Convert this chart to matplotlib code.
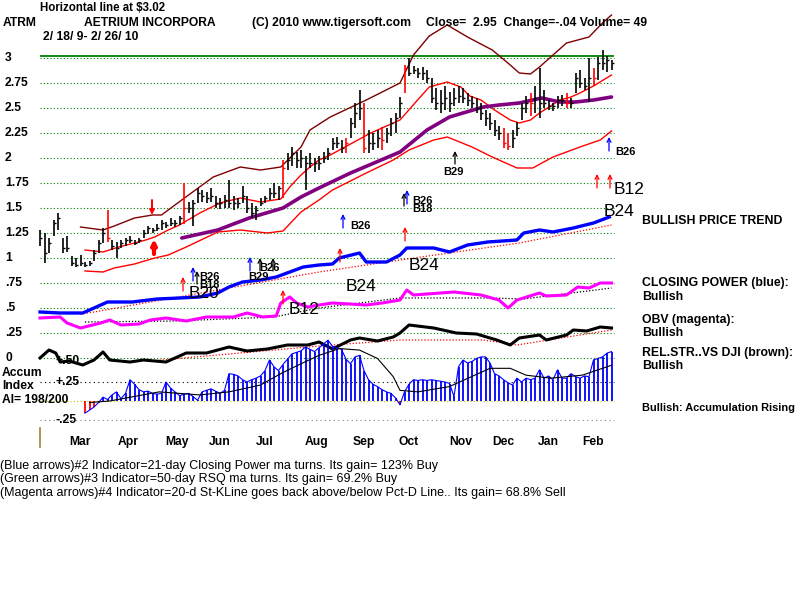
import numpy as np
import matplotlib
matplotlib.use('Agg')
import matplotlib.pyplot as plt
from matplotlib.transforms import blended_transform_factory

# ---- data (x = trading day, bars every 2 days) ----
hi = [1.28, 1.25, 1.20, 1.38, 1.45, 1.20, 1.22, 1.02, 1.00, 1.03,
      0.96, 0.97, 1.08, 1.18, 1.30, 1.48, 1.18, 1.16, 1.18, 1.20,
      1.22, 1.18, 1.20, 1.28, 1.32, 1.30, 1.34, 1.38, 1.36, 1.40,
      1.38, 1.42, 1.75, 1.56, 1.58, 1.70, 1.68, 1.66, 1.70, 1.62,
      1.60, 1.63, 1.78, 1.62, 1.60, 1.72, 1.62, 1.55, 1.52, 1.60,
      1.62, 1.70, 1.75, 1.72, 1.98, 2.05, 2.11, 2.06, 2.08, 2.02,
      2.05, 2.00, 2.02, 2.06, 2.10, 2.20, 2.21, 2.18, 2.20, 2.40,
      2.55, 2.68, 2.55, 2.28, 2.25, 2.28, 2.31, 2.30, 2.40, 2.45,
      2.61, 2.93, 3.00, 2.92, 2.90, 2.91, 2.88, 2.80, 2.70, 2.68,
      2.72, 2.66, 2.70, 2.72, 2.70, 2.65, 2.62, 2.60, 2.55, 2.48,
      2.45, 2.38, 2.32, 2.30, 2.25, 2.28, 2.36, 2.55, 2.62, 2.65,
      2.72, 2.90, 2.68, 2.58, 2.55, 2.62, 2.63, 2.65, 2.60, 2.85,
      2.88, 2.80, 3.00, 2.90, 3.01, 3.08, 3.02, 2.98]
lo = [1.12, 0.95, 1.05, 1.22, 1.28, 1.05, 1.06, 0.92, 0.91, 0.92,
      0.91, 0.92, 0.97, 1.05, 1.15, 1.16, 1.08, 1.00, 1.10, 1.12,
      1.15, 1.13, 1.15, 1.20, 1.24, 1.25, 1.27, 1.28, 1.30, 1.32,
      1.31, 1.33, 1.34, 1.45, 1.32, 1.55, 1.56, 1.55, 1.56, 1.50,
      1.49, 1.50, 1.50, 1.48, 1.50, 1.55, 1.45, 1.40, 1.38, 1.52,
      1.55, 1.58, 1.60, 1.58, 1.60, 1.88, 1.92, 1.90, 1.90, 1.68,
      1.90, 1.86, 1.88, 1.95, 1.98, 2.08, 2.10, 2.05, 2.05, 2.20,
      2.30, 2.38, 2.05, 2.05, 2.08, 2.10, 2.08, 2.15, 2.22, 2.25,
      2.40, 2.65, 2.82, 2.84, 2.80, 2.78, 2.75, 2.55, 2.48, 2.45,
      2.48, 2.46, 2.52, 2.55, 2.55, 2.52, 2.50, 2.45, 2.38, 2.32,
      2.28, 2.22, 2.18, 2.10, 2.08, 2.10, 2.22, 2.38, 2.45, 2.42,
      2.45, 2.40, 2.50, 2.48, 2.47, 2.50, 2.52, 2.50, 2.50, 2.65,
      2.70, 2.68, 2.56, 2.72, 2.78, 2.88, 2.86, 2.88]
cl = [1.20, 1.05, 1.15, 1.35, 1.40, 1.10, 1.10, 0.95, 0.93, 0.95,
      0.93, 0.95, 1.05, 1.15, 1.25, 1.20, 1.12, 1.10, 1.15, 1.18,
      1.18, 1.15, 1.18, 1.25, 1.30, 1.28, 1.30, 1.35, 1.33, 1.35,
      1.35, 1.40, 1.50, 1.50, 1.55, 1.65, 1.62, 1.60, 1.62, 1.55,
      1.55, 1.58, 1.55, 1.55, 1.55, 1.62, 1.50, 1.45, 1.48, 1.55,
      1.60, 1.65, 1.65, 1.70, 1.90, 1.98, 2.05, 1.98, 2.00, 1.95,
      1.95, 1.95, 1.95, 2.00, 2.05, 2.15, 2.15, 2.10, 2.15, 2.35,
      2.45, 2.50, 2.10, 2.15, 2.15, 2.20, 2.18, 2.25, 2.35, 2.40,
      2.55, 2.90, 2.85, 2.88, 2.85, 2.85, 2.80, 2.60, 2.55, 2.55,
      2.60, 2.55, 2.60, 2.62, 2.60, 2.58, 2.55, 2.50, 2.45, 2.40,
      2.35, 2.28, 2.25, 2.15, 2.12, 2.20, 2.30, 2.50, 2.55, 2.55,
      2.60, 2.55, 2.55, 2.52, 2.52, 2.58, 2.58, 2.55, 2.55, 2.80,
      2.75, 2.72, 2.80, 2.80, 2.95, 2.95, 2.98, 2.95]
red_bars = [15, 32, 54, 68, 72, 76, 81, 103, 104, 109, 117, 123]

acc = [np.nan] * 10 + [
    -0.16, -0.12, -0.08, -0.02, 0.05, 0.02, 0.08, 0.12, 0.03, 0.10,
    0.28, 0.22, 0.15, 0.12, 0.13, 0.10, 0.09, 0.10, 0.25, 0.17,
    0.12, 0.07, 0.09, 0.10, 0.06, 0.01, 0.12, 0.14, 0.16, 0.13,
    0.10, 0.14, 0.36, 0.35, 0.33, 0.28, 0.25, 0.28, 0.30, 0.33,
    0.40, 0.54, 0.45, 0.40, 0.48, 0.55, 0.62, 0.64, 0.66, 0.71,
    0.68, 0.65, 0.70, 0.75, 0.80, 0.72, 0.70, 0.68, 0.55, 0.49,
    0.58, 0.60, 0.40, 0.28, 0.22, 0.19, 0.15, 0.12, 0.10, 0.04,
    -0.05, 0.12, 0.22, 0.28, 0.27, 0.28, 0.27, 0.28, 0.27, 0.26,
    0.25, 0.23, 0.06, 0.45, 0.54, 0.50, 0.52, 0.56, 0.58, 0.58,
    0.50, 0.36, 0.33, 0.28, 0.24, 0.21, 0.30, 0.25, 0.30, 0.28,
    0.30, 0.41, 0.30, 0.33, 0.28, 0.41, 0.30, 0.30, 0.36, 0.32,
    0.30, 0.33, 0.32, 0.54, 0.56, 0.58, 0.63, 0.65]
acc_ma_d = [22, 31, 53, 71, 84, 98, 107, 116, 124, 133, 142, 150, 157, 160, 168, 182, 200, 209, 216, 227, 241, 254]
acc_ma = [-0.02, 0.0, 0.12, 0.08, 0.12, 0.21, 0.36, 0.49, 0.60, 0.69, 0.67, 0.56, 0.32, 0.14, 0.12, 0.19, 0.43, 0.43, 0.34, 0.30, 0.34, 0.47]

up_d = [18, 28, 33, 42, 50, 54, 63, 77, 89, 98, 107, 116, 120, 129, 145, 160, 166, 173, 181, 190, 201, 209, 213, 218, 222, 228, 234, 244, 250, 254]
up_band = [1.31, 1.28, 1.32, 1.40, 1.43, 1.43, 1.58, 1.81, 1.91, 1.88, 1.91, 2.11, 2.28, 2.41, 2.58, 2.75, 3.03, 3.22, 3.33, 3.21, 3.08, 2.93, 2.85, 2.84, 2.91, 3.03, 3.15, 3.21, 3.35, 3.43]
mid_d = [20, 28, 35, 42, 47, 51, 57, 62, 71, 80, 89, 98, 107, 111, 116, 120, 124, 129, 147, 160, 169, 173, 181, 187, 191, 196, 202, 209, 213, 218, 222, 227, 231, 236, 240, 246, 254]
mid_band = [1.08, 1.06, 1.11, 1.15, 1.18, 1.21, 1.28, 1.33, 1.45, 1.55, 1.60, 1.56, 1.59, 1.71, 1.83, 1.91, 1.98, 2.03, 2.25, 2.38, 2.61, 2.71, 2.76, 2.71, 2.62, 2.58, 2.48, 2.38, 2.35, 2.38, 2.45, 2.52, 2.58, 2.61, 2.65, 2.72, 2.83]
low_d = [20, 28, 33, 42, 51, 57, 65, 79, 89, 101, 108, 116, 124, 130, 145, 157, 164, 175, 181, 192, 201, 212, 219, 228, 240, 249, 254]
low_band = [0.87, 0.86, 0.90, 0.94, 1.00, 1.03, 1.11, 1.26, 1.28, 1.25, 1.27, 1.46, 1.58, 1.68, 1.85, 1.98, 2.08, 2.18, 2.21, 2.11, 2.01, 1.90, 1.90, 2.01, 2.11, 2.18, 2.27]
ma50_d = [63, 79, 93, 108, 116, 124, 138, 160, 172, 182, 197, 204, 213, 223, 231, 238, 246, 254]
ma50 = [1.20, 1.28, 1.40, 1.50, 1.61, 1.70, 1.85, 2.06, 2.28, 2.41, 2.51, 2.53, 2.55, 2.60, 2.56, 2.56, 2.58, 2.61]

cp_d = [0, 9, 19, 25, 30, 41, 52, 62, 71, 79, 84, 90, 98, 105, 111, 117, 124, 130, 133, 142, 145, 154, 160, 163, 175, 182, 190, 199, 212, 215, 222, 228, 237, 246, 253]
cp = [0.46, 0.45, 0.45, 0.51, 0.56, 0.56, 0.59, 0.60, 0.61, 0.65, 0.71, 0.76, 0.78, 0.81, 0.86, 0.91, 0.93, 0.94, 1.00, 1.05, 0.96, 0.96, 1.03, 1.10, 1.10, 1.06, 1.13, 1.16, 1.18, 1.25, 1.28, 1.26, 1.30, 1.35, 1.41]
cp_ma_d = [18, 24, 79, 124, 160, 213, 254]
cp_ma = [0.44, 0.46, 0.68, 0.86, 0.98, 1.15, 1.33]

obv_d = [0, 9, 12, 18, 27, 31, 36, 44, 49, 56, 65, 74, 86, 92, 99, 105, 107, 111, 114, 119, 124, 130, 145, 152, 160, 163, 166, 178, 184, 196, 204, 208, 212, 222, 225, 234, 239, 244, 249, 254]
obv = [0.40, 0.41, 0.35, 0.30, 0.35, 0.38, 0.33, 0.34, 0.38, 0.40, 0.37, 0.41, 0.41, 0.45, 0.41, 0.42, 0.55, 0.61, 0.55, 0.51, 0.53, 0.55, 0.53, 0.55, 0.58, 0.68, 0.63, 0.65, 0.66, 0.63, 0.58, 0.50, 0.58, 0.65, 0.62, 0.63, 0.71, 0.70, 0.75, 0.75]
obv_ma_d = [20, 60, 104, 124, 160, 200, 215, 254]
obv_ma = [0.36, 0.37, 0.41, 0.50, 0.60, 0.60, 0.59, 0.70]

rs_d = [0, 4, 7, 9, 13, 19, 24, 28, 31, 40, 46, 56, 65, 74, 84, 92, 101, 110, 119, 124, 130, 138, 142, 150, 157, 160, 164, 175, 185, 194, 203, 209, 213, 222, 225, 234, 237, 243, 249, 254]
rs = [0.00, 0.08, 0.05, -0.04, -0.03, -0.07, -0.02, 0.06, -0.02, -0.04, -0.02, -0.04, 0.05, 0.05, 0.11, 0.07, 0.09, 0.13, 0.13, 0.16, 0.09, 0.18, 0.20, 0.17, 0.21, 0.25, 0.33, 0.30, 0.25, 0.24, 0.18, 0.13, 0.20, 0.23, 0.18, 0.23, 0.28, 0.27, 0.31, 0.30]
rs_ma_d = [49, 89, 124, 160, 197, 212, 254]
rs_ma = [-0.03, 0.05, 0.12, 0.18, 0.18, 0.13, 0.28]

months = ['Mar', 'Apr', 'May', 'Jun', 'Jul', 'Aug', 'Sep', 'Oct', 'Nov', 'Dec', 'Jan', 'Feb']
month_d = [18, 39, 61, 80, 100, 123, 144, 164, 187, 206, 226, 246]
price_ticks = [3, 2.75, 2.5, 2.25, 2, 1.75, 1.5, 1.25, 1, 0.75, 0.5, 0.25, 0]
price_labels = ['3', '2.75', '2.5', '2.25', '2', '1.75', '1.5', '1.25', '1', '.75', '.5', '.25', '0']
hline = 3.02

W, H = 800, 600
fig = plt.figure(figsize=(8, 6), dpi=100)
fig.patch.set_facecolor('white')

# px -> data: day = (px-40)/2.25 ; price = (358-py)/100
ax = fig.add_axes([0, 0, 1, 1])
ax.set_xlim((0 - 40) / 2.25, (W - 40) / 2.25)
ax.set_ylim((358 - H) / 100, 358 / 100)
ax.axis('off')
ax2 = fig.add_axes([0, 0, 1, 1])
ax2.set_xlim(ax.get_xlim())
ax2.set_ylim((401 - H) / 76, 401 / 76)
ax2.axis('off')
ax2.patch.set_alpha(0)

FB = 'Liberation Sans'


def ftext(px, py, s, size=8.7, bold=True, ha='left', color='black', **kw):
    fig.text(px / W, 1 - py / H, s, fontsize=size, family=FB,
             fontweight='bold' if bold else 'normal', ha=ha, va='center', color=color, **kw)


x = np.arange(len(hi)) * 2
x0, x1 = 0, 255

# grid
ax.hlines(price_ticks, x0, x1, colors='#008000', linestyles=(0, (1, 2)), lw=0.8)
ax.hlines(hline, x0, x1, colors='#008000', lw=1.3)
ax2.hlines([0.25], x0, x1, colors='black', linestyles=(0, (1, 3)), lw=0.8)
ax2.hlines([0], x0, x1, colors='#c8c800', linestyles=(0, (1, 2)), lw=0.8)
ax2.hlines([-0.25], x0, x1, colors='gray', linestyles=(0, (1, 3)), lw=0.8)

# bands and averages
ax.plot(up_d, up_band, color='#800000', lw=1.0)
ax.plot(mid_d, mid_band, color='#ff0000', lw=1.0)
ax.plot(low_d, low_band, color='#ff0000', lw=1.0)
ax.plot(ma50_d, ma50, color='#800080', lw=2.6, solid_capstyle='round')

# price bars
for i in range(len(hi)):
    c = '#ff0000' if i in red_bars else 'black'
    ax.vlines(x[i], lo[i], hi[i], colors=c, lw=1.2)
    ax.hlines(cl[i], x[i], x[i] + 1.0, colors=c, lw=1.0)

# indicator lines
ax.plot(cp_ma_d, cp_ma, color='#ff0000', lw=0.9, ls=(0, (1, 1.5)))
ax.plot(cp_d, cp, color='#0000ff', lw=2.4)
ax.plot(obv_ma_d, obv_ma, color='black', lw=0.9, ls=(0, (1, 1.5)))
ax.plot(obv_d, obv, color='#ff00ff', lw=2.2)
ax.plot(rs_ma_d, rs_ma, color='#ff0000', lw=0.9, ls=(0, (1, 1.5)))
ax.plot(rs_d, rs, color='black', lw=2.2)

# accumulation index
acc_a = np.array(acc)
for i in range(len(acc_a)):
    if np.isnan(acc_a[i]):
        continue
    c = '#ff0000' if acc_a[i] < 0 else '#0000ff'
    ax2.vlines(x[i], 0, acc_a[i], colors=c, lw=1.3)
ax2.plot(x, acc_a, color='#0000ff', lw=0.8)
ax2.plot(acc_ma_d, acc_ma, color='black', lw=0.8)
fig.add_artist(plt.Line2D([40 / W, 40 / W], [1 - 428 / H, 1 - 447 / H], color='#a08040', lw=1.2))


# signal arrows (px positions converted)
def arrow(px, py0, py1, color, lw=0.9, style='->'):
    d = (px - 40) / 2.25
    ax.annotate('', xy=(d, (358 - py1) / 100), xytext=(d, (358 - py0) / 100),
                arrowprops=dict(arrowstyle=style, color=color, lw=lw, shrinkA=0, shrinkB=0,
                                mutation_scale=7))


for px, py0 in [(183, 291), (283, 304), (340, 262), (405, 241), (597, 188), (610, 188)]:
    arrow(px, py0, py0 - 14, '#ff0000')
for px, py0 in [(193, 281), (250, 271), (343, 228), (407, 204), (609, 151)]:
    arrow(px, py0, py0 - 14, '#0000ff')
for px, py0 in [(197, 284), (260, 271), (273, 271), (404, 206), (455, 164)]:
    arrow(px, py0, py0 - 13, 'black')
arrow(152, 200, 215, '#ff0000', lw=1.4, style='-|>')
arrow(154, 254, 239, '#ff0000', lw=3.0, style='-|>')

# signal labels
for px, py, s in [(199, 277, 'B26'), (199, 285, 'B18'), (248, 277, 'B29'), (259, 268, 'B26'),
                  (350, 226, 'B26'), (412, 201, 'B26'), (412, 209, 'B18'), (443, 172, 'B29'),
                  (615, 152, 'B26')]:
    ftext(px, py, s, size=8)
for px, py, s in [(189, 293, 'B20'), (289, 309, 'B12'), (346, 287, 'B24'), (409, 265, 'B24'),
                  (614, 190, 'B12'), (604, 211, 'B24')]:
    ftext(px, py, s, size=12.5, bold=False)

# header
ftext(40, 8, 'Horizontal line at $3.02', size=8.3)
ftext(3, 23, 'ATRM')
ftext(84, 23, 'AETRIUM INCORPORA')
ftext(252, 23, '(C) 2010 www.tigersoft.com')
ftext(426, 23, 'Close=  2.95  Change=-.04 Volume= 49')
ftext(43, 37, '2/ 18/ 9- 2/ 26/ 10')

# y labels
for p, s in zip(price_ticks, price_labels):
    ftext(5, 358 - p * 100, s)
ftext(2, 373, 'Accum')
ftext(2, 386, 'Index')
ftext(2, 400, 'AI= 198/200')
ftext(55, 361, '+.50')
ftext(55, 382, '+.25')
ftext(55, 420, '-.25')

# month labels
tr = blended_transform_factory(ax.transData, fig.transFigure)
for d, m in zip(month_d, months):
    ax.text(d, 1 - 442 / H, m, transform=tr, ha='center', va='center',
            fontsize=8.7, family=FB, fontweight='bold')

# right-side status
ftext(642, 221, 'BULLISH PRICE TREND', size=8.8)
ftext(642, 283, 'CLOSING POWER (blue):', size=8.8)
ftext(642, 297, 'Bullish', size=8.8)
ftext(642, 320, 'OBV (magenta):', size=8.8)
ftext(642, 333, 'Bullish', size=8.8)
ftext(642, 353, 'REL.STR..VS DJI (brown):', size=8.8)
ftext(642, 366, 'Bullish', size=8.8)
ftext(642, 408, 'Bullish: Accumulation Rising', size=7.9)

# bottom notes
ftext(0, 466, '(Blue arrows)#2 Indicator=21-day Closing Power ma turns. Its gain= 123% Buy', size=9, bold=False)
ftext(0, 479, '(Green arrows)#3 Indicator=50-day RSQ ma turns. Its gain= 69.2% Buy', size=9, bold=False)
ftext(0, 493, '(Magenta arrows)#4 Indicator=20-d St-KLine goes back above/below Pct-D Line.. Its gain= 68.8% Sell',
      size=9, bold=False)

fig.savefig('out.png', dpi=100, facecolor='white')
